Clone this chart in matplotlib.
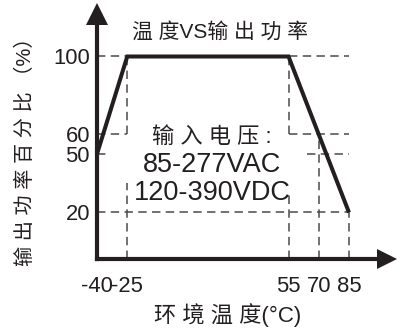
import matplotlib
matplotlib.use("Agg")
import matplotlib.pyplot as plt

# derating curve
temps = [-40, -25, 55, 85]
power = [50, 100, 100, 20]

x_ticks = [-40, -25, 55, 70, 85]
x_tick_labels = ["-40", "-25", "55", "70", "85"]
y_ticks = [100, 60, 50, 20]
y_tick_labels = ["100", "60", "50", "20"]

# dashed guide segments: (x0, x1, y0, y1)
guides = [
    (-40, -25, 100, 100), (55, 85, 100, 100),
    (-40, -25, 60, 60), (55, 85, 60, 60),
    (-40, -34, 50, 50), (64, 85, 50, 50),
    (-40, 85, 20, 20),
    (-25, -25, 60, 100), (-25, -25, -4, 35),
    (55, 55, 60, 100), (55, 55, -4, 29),
    (70, 70, -4, 60),
    (85, 85, -4, 20),
]

title = "温 度VS输 出 功 率"
note = ["输 入 电 压 :", "85-277VAC", "120-390VDC"]
x_label = "环 境 温 度(°C)"
y_label = "输 出 功 率 百 分 比 （%）"

ink = "#231f20"
fonts = ["Liberation Sans", "Noto Sans CJK SC", "DejaVu Sans"]
plt.rcParams["font.family"] = fonts

W, H = 397, 329
fig = plt.figure(figsize=(W / 100, H / 100), dpi=100)
# axes: origin at pixel (97, 259), top at 3, right at 397
ax = fig.add_axes([97 / W, (H - 259) / H, 300 / W, 256 / H])
ax.set_xlim(-40, -40 + 300 / 2.016)
ax.set_ylim(-3.85, -3.85 + 256 / 1.95)
for s in ax.spines.values():
    s.set_visible(False)

for x0, x1, y0, y1 in guides:
    ax.plot([x0, x1], [y0, y1], color="#4a4a4a", lw=1.1,
            linestyle=(0, (5.5, 3.5)), zorder=1)

ax.plot(temps, power, color=ink, lw=2.9, zorder=3,
        solid_joinstyle="miter", solid_capstyle="butt")

# axis lines with arrow heads
ax.plot([0, 0], [0, 1 - 21 / 256], transform=ax.transAxes, color=ink,
        lw=3, clip_on=False, zorder=4, solid_capstyle="projecting")
ax.plot([0], [1 - 11 / 256], marker="^", ms=16, color=ink, mew=0,
        transform=ax.transAxes, clip_on=False, zorder=5)
ax.plot([0, 1 - 19 / 300], [0, 0], transform=ax.transAxes, color=ink,
        lw=3, clip_on=False, zorder=4, solid_capstyle="projecting")
ax.plot([1 - 10 / 300], [0], marker=">", ms=15, color=ink, mew=0,
        transform=ax.transAxes, clip_on=False, zorder=5)

ax.set_xticks(x_ticks, x_tick_labels)
ax.set_yticks(y_ticks, y_tick_labels)
ax.tick_params(axis="both", length=0, labelsize=15.8, colors=ink)
ax.tick_params(axis="x", pad=12)
ax.tick_params(axis="y", pad=5)

fig.text(220 / W, 1 - 32 / H, title, ha="center", va="center",
         fontsize=15, color=ink)
for i, line in enumerate(note):
    fig.text(212 / W, 1 - (137 + 28 * i) / H, line, ha="center",
             va="center", fontsize=19.5 if i else 16, color=ink)
fig.text(228 / W, 1 - 315 / H, x_label, ha="center", va="center",
         fontsize=16, color=ink)
fig.text(25 / W, 1 - 147 / H, y_label, ha="center", va="center",
         rotation=90, fontsize=14.5, color=ink)

fig.savefig("out.png", dpi=100)
